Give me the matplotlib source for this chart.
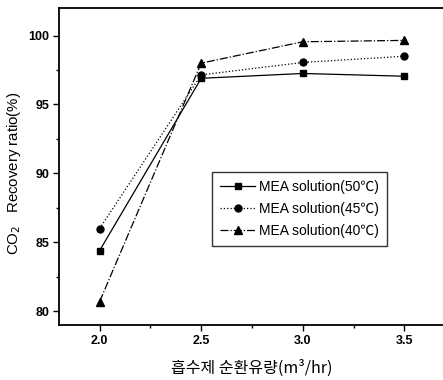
import matplotlib.pyplot as plt
from matplotlib.ticker import MultipleLocator

flow = [2.0, 2.5, 3.0, 3.5]
mea_50 = [84.4, 96.9, 97.25, 97.05]
mea_45 = [86.0, 97.15, 98.05, 98.5]
mea_40 = [80.7, 98.0, 99.55, 99.65]
labels = ['MEA solution(50\u2103)', 'MEA solution(45\u2103)', 'MEA solution(40\u2103)']

plt.rcParams['font.family'] = ['Liberation Sans', 'Noto Sans CJK KR', 'DejaVu Sans']

fig = plt.figure(figsize=(4.43, 3.80), dpi=100)
ax = fig.add_axes([59 / 443, 1 - 325 / 380, (445 - 59) / 443, (325 - 8) / 380])

ax.plot(flow, mea_50, color='black', lw=0.9, ls='-', marker='s', ms=5, label=labels[0])
ax.plot(flow, mea_45, color='black', lw=0.9, ls=':', marker='o', ms=5, label=labels[1])
ax.plot(flow, mea_40, color='black', lw=0.9, ls='-.', marker='^', ms=6, label=labels[2])

ax.set_xlim(1.8, 3.7)
ax.set_ylim(79, 102)
ax.xaxis.set_major_locator(MultipleLocator(0.5))
ax.xaxis.set_minor_locator(MultipleLocator(0.25))
ax.yaxis.set_major_locator(MultipleLocator(5))
ax.yaxis.set_minor_locator(MultipleLocator(2.5))
ax.tick_params(which='major', direction='out', length=4, width=1, labelsize=9, pad=3)
ax.tick_params(which='minor', direction='out', length=2.5, width=1)
for lab in ax.get_xticklabels() + ax.get_yticklabels():
    lab.set_fontweight('bold')
for s in ax.spines.values():
    s.set_linewidth(1.3)

ax.set_ylabel('CO$_2$   Recovery ratio(%)', fontsize=10.8)
ax.yaxis.set_label_coords(-36 / 386, (325 - 173) / 317)
ax.set_xlabel('흡수제 순환유량(m³/hr)', fontsize=11.5, labelpad=9,
              family=['Noto Sans CJK KR', 'Liberation Sans'])

leg = ax.legend(loc='upper left', bbox_to_anchor=((212 - 59) / 386, (325 - 172) / 317),
                fontsize=10, frameon=True, fancybox=False, edgecolor='black',
                handlelength=2.5, handletextpad=0.3, borderpad=0.6, labelspacing=0.55,
                borderaxespad=0)
leg.get_frame().set_linewidth(1.0)

plt.savefig('out.png', dpi=100)
